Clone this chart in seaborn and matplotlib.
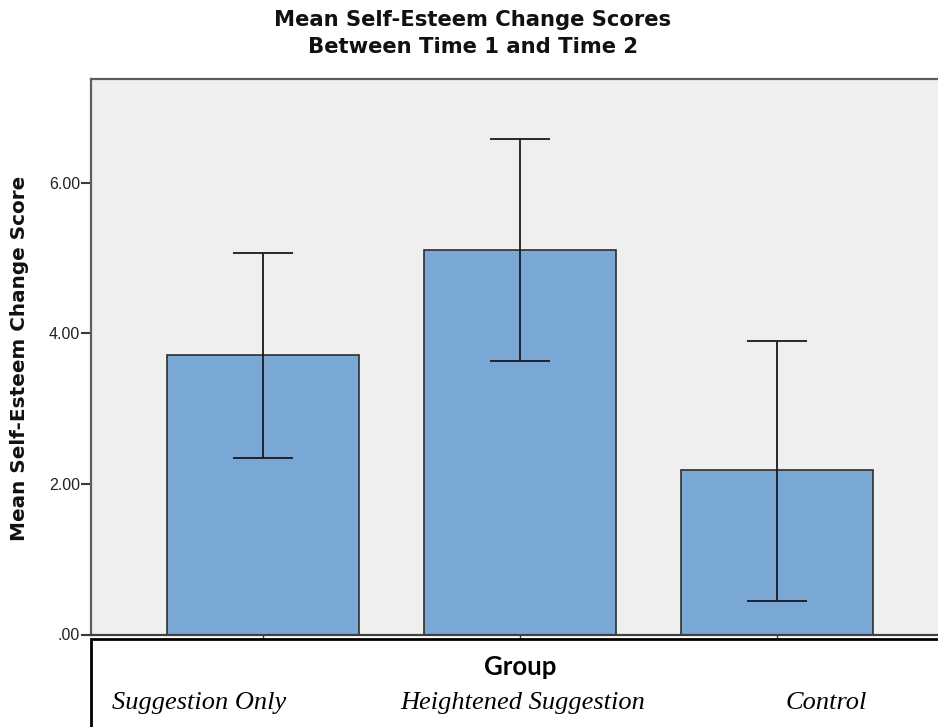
import matplotlib
matplotlib.use("Agg")
import matplotlib.pyplot as plt
import seaborn as sns
import pandas as pd
from matplotlib.patches import Rectangle

# Group means and 95% CI bounds of the self-esteem change score
groups = ["Suggestion Only", "Heightened Suggestion", "Control"]
mean_change = [3.71, 5.11, 2.18]
ci_lower = [2.34, 3.63, 0.45]
ci_upper = [5.07, 6.58, 3.90]
y_ticks = [0, 2, 4, 6]
y_tick_labels = [".00", "2.00", "4.00", "6.00"]

sns.set_theme(style="white")
plt.rcParams["font.family"] = ["Liberation Sans", "DejaVu Sans"]

W, H = 938, 727
fig = plt.figure(figsize=(W / 100, H / 100), dpi=100)
fig.patch.set_facecolor("white")

# plot panel in pixel coordinates (right side runs past the canvas)
left, right, top, bottom = 91, 949, 79, 634.5
ax = fig.add_axes([left / W, 1 - bottom / H, (right - left) / W, (bottom - top) / H])
ax.set_facecolor("#EFEFEF")

df = pd.DataFrame({"group": groups, "change": mean_change})
sns.barplot(data=df, x="group", y="change", color="#7AA8D5", saturation=1,
            width=0.75, edgecolor="#2E2E2E", linewidth=1.2, errorbar=None,
            ax=ax, zorder=2)

xpos = list(range(len(groups)))
yerr = [[m - lo for m, lo in zip(mean_change, ci_lower)],
        [hi - m for m, hi in zip(mean_change, ci_upper)]]
ax.errorbar(xpos, mean_change, yerr=yerr, fmt="none", ecolor="#1A1A1A",
            elinewidth=1.3, capsize=21.5, capthick=1.3, zorder=3)

ax.set_xlim(-0.669, 2.669)
ax.set_ylim(0, 7.38)
ax.set_yticks(y_ticks)
ax.set_yticklabels(y_tick_labels)
ax.set_xticks(xpos)
ax.set_xticklabels(["", "", ""])
ax.set_xlabel("")
ax.set_ylabel("")

ax.tick_params(axis="y", left=True, length=7, width=1.5, color="#3A3A3A",
               labelsize=11.5, labelcolor="#222222", pad=1)
ax.tick_params(axis="x", bottom=True, length=3, width=1.0, color="#3A3A3A")

for side in ["left", "top"]:
    ax.spines[side].set_color("#5E5E5E")
    ax.spines[side].set_linewidth(1.6)
ax.spines["bottom"].set_color("#404040")
ax.spines["bottom"].set_linewidth(1.6)
ax.spines["right"].set_visible(False)

# titles and axis label
head_font = ["DejaVu Sans"]
fig.text(473 / W, 1 - 20 / H, "Mean Self-Esteem Change Scores", ha="center",
         va="center", fontsize=15.2, fontweight="bold", family=head_font,
         color="#111111")
fig.text(473 / W, 1 - 47 / H, "Between Time 1 and Time 2", ha="center",
         va="center", fontsize=15.2, fontweight="bold", family=head_font,
         color="#111111")
fig.text(20 / W, 1 - 358 / H, "Mean Self-Esteem Change Score", ha="center",
         va="center", rotation=90, fontsize=14.4, fontweight="bold",
         family=head_font, color="#111111")

# category box below the panel
fig.patches.append(Rectangle((91 / W, -0.1), 1.0, (1 - 639 / H) + 0.1,
                             transform=fig.transFigure, facecolor="white",
                             edgecolor="black", linewidth=2, zorder=0))
fig.text(520 / W, 1 - 667 / H, "Group", ha="center", va="center",
         fontsize=18.5, fontweight="bold", family=["Lato", "DejaVu Sans"], color="black")
label_x = [199, 523, 826]
for gx, name in zip(label_x, groups):
    fig.text(gx / W, 1 - 703 / H, name, ha="center", va="center", fontsize=19,
             style="italic", family=["Liberation Serif", "DejaVu Serif"], color="black")

fig.savefig("out.png", dpi=100, facecolor="white")
